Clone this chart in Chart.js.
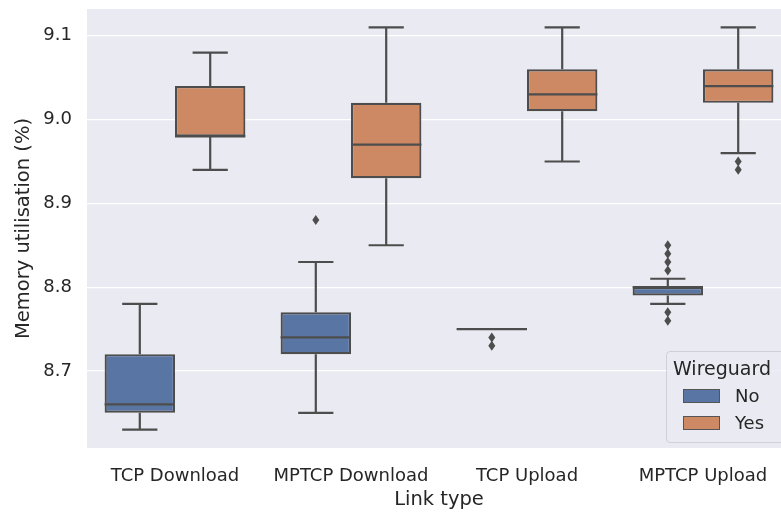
<!DOCTYPE html>
<html>
<head>
<meta charset="utf-8">
<script src="https://cdn.jsdelivr.net/npm/chart.js@4.4.0/dist/chart.umd.min.js"></script>
<style>
  html, body { margin: 0; padding: 0; background: #ffffff; overflow: hidden; }
  #wrap { position: relative; width: 781px; height: 512px; overflow: hidden; }
  #legend {
    position: absolute; left: 666px; top: 351px; width: 120px; height: 90px;
    background: rgba(234,234,242,0.8); border: 1px solid #d0d0d8; border-radius: 4px;
    font-family: "DejaVu Sans", sans-serif; color: #262626;
  }
  #legend .ttl { position: absolute; left: 6px; top: 4px; font-size: 19px; line-height: 24px; }
  #legend .row { position: absolute; left: 16px; font-size: 18px; line-height: 22px; }
  #legend .sw { display: inline-block; width: 35px; height: 12px; border: 1px solid #555; vertical-align: -1px; margin-right: 15px; }
</style>
</head>
<body>
<div id="wrap">
  <canvas id="chart" width="793" height="512"></canvas>
  <div id="legend">
    <div class="ttl">Wireguard</div>
    <div class="row" style="top:33px"><span class="sw" style="background:#5875a4"></span>No</div>
    <div class="row" style="top:60px"><span class="sw" style="background:#cc8963"></span>Yes</div>
  </div>
</div>
<script>
// Memory utilisation boxplots per link type, split by Wireguard
const linkTypes = ['TCP Download', 'MPTCP Download', 'TCP Upload', 'MPTCP Upload'];
const yTicks = [8.7, 8.8, 8.9, 9.0, 9.1];

// Wireguard = No
const noLow     = [8.63, 8.65, 8.75, 8.78];
const noQ1      = [8.65, 8.72, 8.75, 8.79];
const noMedian  = [8.66, 8.74, 8.75, 8.80];
const noQ3      = [8.72, 8.77, 8.75, 8.80];
const noHigh    = [8.78, 8.83, 8.75, 8.81];
const noOutliers = [[], [8.88], [8.74, 8.73], [8.82, 8.83, 8.84, 8.85, 8.77, 8.76]];

// Wireguard = Yes
const yesLow     = [8.94, 8.85, 8.95, 8.96];
const yesQ1      = [8.98, 8.93, 9.01, 9.02];
const yesMedian  = [8.98, 8.97, 9.03, 9.04];
const yesQ3      = [9.04, 9.02, 9.06, 9.06];
const yesHigh    = [9.08, 9.11, 9.11, 9.11];
const yesOutliers = [[], [], [], [8.95, 8.94]];

const lineGray = '#4d4d4d';
const textGray = '#262626';

const boxStats = [
    { low: noLow, med: noMedian, high: noHigh, q1: noQ1, q3: noQ3, out: noOutliers },
    { low: yesLow, med: yesMedian, high: yesHigh, q1: yesQ1, q3: yesQ3, out: yesOutliers }
];

// background of the plotting area
const plotBg = {
    id: 'plotBg',
    beforeDraw(chart) {
        const {ctx, chartArea: {left, top, width, height}} = chart;
        ctx.save();
        ctx.fillStyle = '#eaeaf2';
        ctx.fillRect(left, top, width, height);
        ctx.restore();
    }
};

// whiskers, medians and outliers on top of the floating bars
const boxExtras = {
    id: 'boxExtras',
    afterDatasetsDraw(chart) {
        const {ctx, scales: {y}} = chart;
        ctx.save();
        ctx.strokeStyle = lineGray;
        ctx.fillStyle = lineGray;
        ctx.lineWidth = 2.2;
        boxStats.forEach((s, di) => {
            const meta = chart.getDatasetMeta(di);
            meta.data.forEach((bar, i) => {
                const cx = bar.x;
                const half = bar.width / 2;
                const capHalf = half / 2;
                const yQ1 = y.getPixelForValue(s.q1[i]);
                const yQ3 = y.getPixelForValue(s.q3[i]);
                const yLo = y.getPixelForValue(s.low[i]);
                const yHi = y.getPixelForValue(s.high[i]);
                const yMed = y.getPixelForValue(s.med[i]);
                ctx.beginPath();
                // whiskers
                ctx.moveTo(cx, yQ1); ctx.lineTo(cx, yLo);
                ctx.moveTo(cx, yQ3); ctx.lineTo(cx, yHi);
                ctx.moveTo(cx - capHalf, yLo); ctx.lineTo(cx + capHalf, yLo);
                ctx.moveTo(cx - capHalf, yHi); ctx.lineTo(cx + capHalf, yHi);
                // median
                ctx.moveTo(cx - half, yMed); ctx.lineTo(cx + half, yMed);
                ctx.stroke();
                // outliers as diamonds
                s.out[i].forEach(v => {
                    const py = y.getPixelForValue(v);
                    ctx.beginPath();
                    ctx.moveTo(cx, py - 5);
                    ctx.lineTo(cx + 3.5, py);
                    ctx.lineTo(cx, py + 5);
                    ctx.lineTo(cx - 3.5, py);
                    ctx.closePath();
                    ctx.fill();
                });
            });
        });
        ctx.restore();
    }
};

new Chart(document.getElementById('chart'), {
    type: 'bar',
    data: {
        labels: linkTypes,
        datasets: [
            {
                label: 'No',
                data: noQ1.map((v, i) => [v, noQ3[i]]),
                backgroundColor: '#5875a4',
                borderColor: lineGray,
                borderWidth: 2.2,
                borderSkipped: false
            },
            {
                label: 'Yes',
                data: yesQ1.map((v, i) => [v, yesQ3[i]]),
                backgroundColor: '#cc8963',
                borderColor: lineGray,
                borderWidth: 2.2,
                borderSkipped: false
            }
        ]
    },
    options: {
        responsive: false,
        animation: false,
        categoryPercentage: 0.8,
        barPercentage: 1.0,
        layout: { padding: { top: 9, right: 2, left: 0, bottom: 0 } },
        plugins: {
            legend: { display: false },
            tooltip: { enabled: false }
        },
        scales: {
            x: {
                grid: { display: false },
                border: { display: false },
                ticks: {
                    color: textGray,
                    font: { family: 'DejaVu Sans', size: 18 },
                    padding: 10
                },
                title: {
                    display: true,
                    text: 'Link type',
                    color: textGray,
                    font: { family: 'DejaVu Sans', size: 19.5 },
                    padding: { top: 0, bottom: 0 }
                },
                afterFit(scale) { scale.height = 64; scale.paddingLeft = 0; scale.paddingRight = 0; }
            },
            y: {
                min: 8.608,
                max: 9.132,
                grid: { color: '#ffffff', lineWidth: 1.2, drawTicks: false },
                border: { display: false },
                afterBuildTicks(scale) {
                    scale.ticks = yTicks.map(v => ({ value: v }));
                },
                ticks: {
                    color: textGray,
                    font: { family: 'DejaVu Sans', size: 18 },
                    padding: 15,
                    callback: v => v.toFixed(1)
                },
                title: {
                    display: true,
                    text: 'Memory utilisation (%)',
                    color: textGray,
                    font: { family: 'DejaVu Sans', size: 19.5 },
                    padding: { top: 12, bottom: 0 }
                },
                afterFit(scale) { scale.width = 87; scale.paddingTop = 0; scale.paddingBottom = 0; }
            }
        }
    },
    plugins: [plotBg, boxExtras]
});
</script>
</body>
</html>
